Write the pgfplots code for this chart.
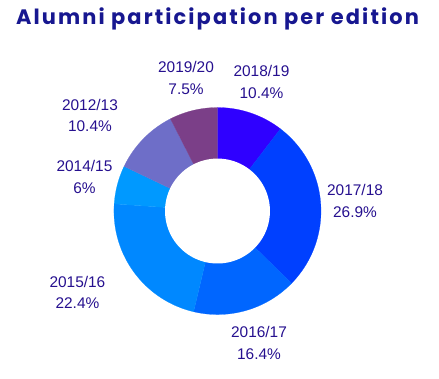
\documentclass[border=0pt]{standalone}
\usepackage{pgfplots}
\pgfplotsset{compat=1.18}
\usepackage{fontspec}
\setmainfont{Liberation Sans}
\newfontfamily\titlefont[LetterSpace=10]{Poppins}
\definecolor{cA}{HTML}{2F00FF}
\definecolor{cB}{HTML}{0040FF}
\definecolor{cC}{HTML}{0066FF}
\definecolor{cD}{HTML}{0088FF}
\definecolor{cE}{HTML}{0099FF}
\definecolor{cF}{HTML}{6E6EC8}
\definecolor{cG}{HTML}{7B3F88}
\definecolor{labc}{HTML}{26108F}
\definecolor{titc}{HTML}{171790}
\tikzset{lab/.style={text=labc, font=\fontsize{15.5}{22}\selectfont, align=center}}
\newcommand\cum{0}
\newcommand\slice[2]{%
  \pgfmathsetmacro\aA{90-3.6*\cum}%
  \pgfmathsetmacro\aB{90-3.6*(\cum+#1)}%
  \pgfmathsetmacro\newcum{\cum+#1}%
  \xdef\cum{\newcum}%
  \edef\tmp{\noexpand\addplot[fill=#2, draw=#2, line width=0.2pt, domain=\aB:\aA, samples=60] ({cos(x)},{sin(x)}) -- (axis cs:0,0) -- cycle;}\tmp
}
\begin{document}
\begin{tikzpicture}
\begin{axis}[
  scale only axis, width=439bp, height=379bp,
  xmin=-2.101, xmax=2.140, ymin=-1.623, ymax=2.039,
  hide axis, clip=false
]
\slice{10.4}{cA}
\slice{26.9}{cB}
\slice{16.4}{cC}
\slice{22.4}{cD}
\slice{6}{cE}
\slice{10.4}{cF}
\slice{7.5}{cG}
\addplot[fill=white, draw=none, domain=0:360, samples=120] ({0.507*cos(x)},{0.507*sin(x)});
\node[lab] at (axis cs:0.425,1.251) {2018/19\\10.4\%};
\node[lab] at (axis cs:1.329,0.097) {2017/18\\26.9\%};
\node[lab] at (axis cs:0.401,-1.271) {2016/17\\16.4\%};
\node[lab] at (axis cs:-1.353,-0.787) {2015/16\\22.4\%};
\node[lab] at (axis cs:-1.285,0.333) {2014/15\\6\%};
\node[lab] at (axis cs:-1.232,0.923) {2012/13\\10.4\%};
\node[lab] at (axis cs:-0.304,1.285) {2019/20\\7.5\%};
\node[text=titc, font=\titlefont\bfseries\fontsize{21}{24}\selectfont] at (axis cs:0,1.86) {Alumni participation per edition};
\path (rel axis cs:0,0) rectangle (rel axis cs:1,1);
\end{axis}
\end{tikzpicture}
\end{document}
